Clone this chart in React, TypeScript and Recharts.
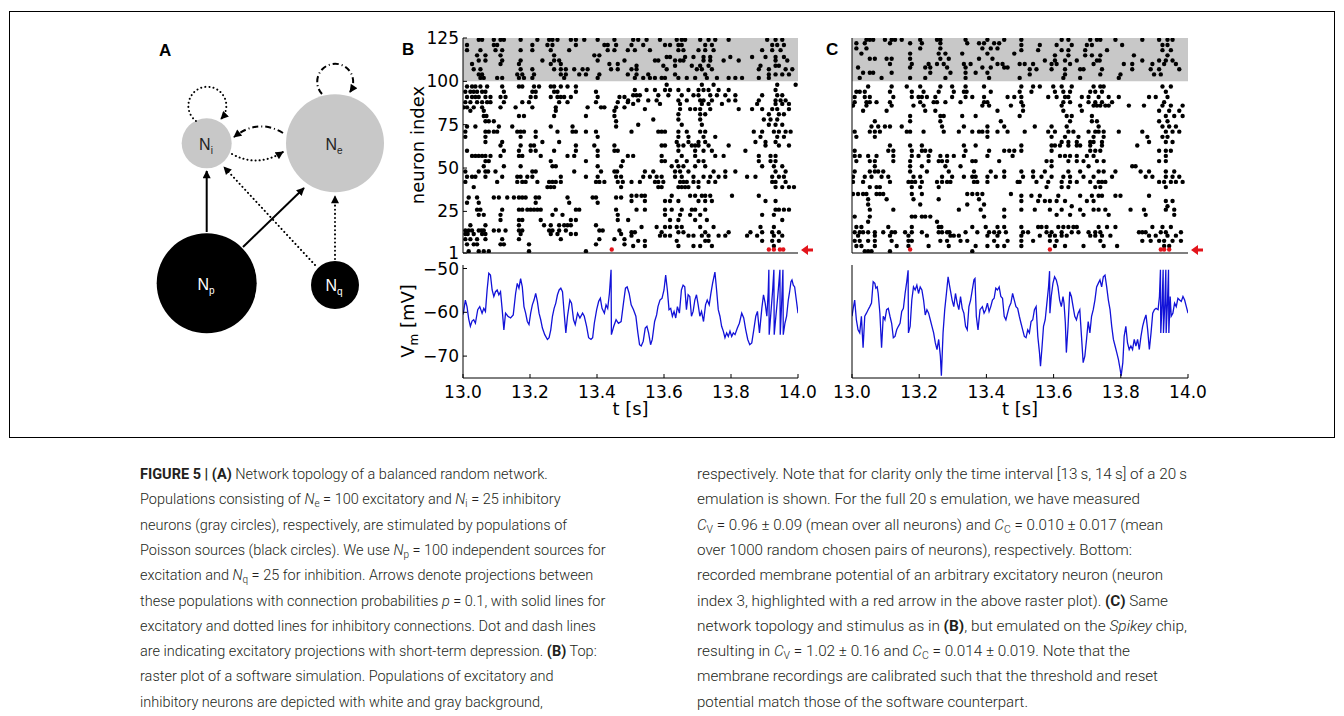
import React from 'react';
import { ScatterChart, Scatter, LineChart, Line, XAxis, YAxis, ReferenceArea } from 'recharts';

const timeTicks = [13.0, 13.2, 13.4, 13.6, 13.8, 14.0];
const neuronTicks = [1, 25, 50, 75, 100, 125];
const vmTicks = [-70, -60, -50];

// spike times in ms after t = 13 s, grouped by neuron index
const spikesB: [number, number[]][] = [
  [124, [47, 57, 92, 112, 122, 172, 222, 257, 267, 282, 322, 337, 362, 402, 452]],
  [121, [12, 92, 102, 207, 252, 267, 337, 422, 432, 457]],
  [118, [12, 52, 97, 117, 172, 207, 262, 317, 432, 452, 492]],
  [115, [42, 67, 112, 272, 392, 407]],
  [112, [47, 67, 117, 172, 237, 272, 287, 402, 482]],
  [110, [27, 112, 167, 262, 292, 437, 462]],
  [107, [32, 52, 172, 207, 272, 292, 307, 332, 357, 372, 442, 462]],
  [104, [47, 57, 162, 177, 212, 292, 307, 347, 367, 407, 492]],
  [102, [52, 62, 102, 117, 167, 182, 207, 302, 402]],
  [97, [12, 27, 37, 52, 72, 117, 167, 177, 212, 227, 262, 272, 292, 312, 337]],
  [94, [7, 22, 32, 42, 57, 67, 122, 207, 217, 272, 282, 337, 397]],
  [91, [12, 27, 37, 47, 67, 82, 112, 127, 202, 217, 262, 282, 292, 302, 322, 402, 467, 482]],
  [88, [7, 22, 42, 57, 72, 82, 122, 177, 197, 287, 312, 397, 462, 492]],
  [85, [2, 12, 32, 57, 112, 157, 207, 277, 372, 412, 422, 457, 482]],
  [83, [22, 62, 277, 452]],
  [80, [62, 70, 167, 182, 272, 367, 452]],
  [77, [67, 77, 92, 457]],
  [74, [12, 37, 107, 147, 262, 327, 457]],
  [71, [7, 67, 77, 92, 102, 162, 172, 182, 217, 282, 327, 337, 367, 397]],
  [68, [7, 67, 172, 217, 402]],
  [65, [67, 117, 237, 287]],
  [63, [112, 172, 202, 212, 337, 392, 452]],
  [60, [12, 122, 167, 202, 217, 272, 337, 402, 452, 462]],
  [57, [27, 37, 47, 57, 67, 82, 112, 167, 177, 232, 312, 332, 402, 492]],
  [54, [67, 77, 262, 367, 477]],
  [51, [62, 122, 172, 267, 277, 402, 472]],
  [48, [7, 47, 67, 75, 97, 207, 217, 332, 412, 452, 460]],
  [45, [12, 27, 37, 67, 117, 162, 172, 192, 207, 292, 367, 402, 457, 472]],
  [42, [7, 102, 162, 177, 187, 222, 257, 267, 277, 292, 397, 407, 422, 462, 477]],
  [39, [32, 252, 262, 272, 472]],
  [33, [17, 42, 92, 107, 132, 152, 167, 177, 187, 217, 227, 312, 387, 397, 457, 472]],
  [30, [12, 47, 217, 317, 402]],
  [26, [42, 52, 117, 167, 177, 192, 202, 212, 222, 232, 277, 337, 347, 457]],
  [23, [47, 62, 112, 267, 297, 462]],
  [20, [112, 167, 177, 232, 322, 337, 462]],
  [17, [22, 67, 167, 242, 262, 287, 302, 312, 322, 397]],
  [14, [7, 17, 27, 47, 55, 62, 92, 107, 127, 167, 177, 257, 267, 287, 307, 407, 417, 467]],
  [12, [7, 14, 32, 57, 67, 172, 262, 282, 322, 337, 472]],
  [9, [7, 22, 42, 67, 117, 167, 292, 407, 452, 482]],
  [6, [12, 32, 42, 112, 122, 197, 397, 482]],
  [2, [17, 47, 62, 77, 197, 367]],
  [124, [508, 523, 548, 588, 638, 653, 663, 708, 733, 753, 793, 908, 933, 953]],
  [121, [503, 538, 603, 618, 643, 653, 723, 743, 923, 938, 958]],
  [118, [513, 558, 643, 658, 703, 723, 748, 893, 923, 948]],
  [114, [608, 618, 663, 688, 718, 738, 798, 863, 903, 933, 958]],
  [112, [573, 583, 633, 648, 658, 718, 738, 778, 823, 933, 968]],
  [109, [518, 598, 633, 683, 708, 733, 888, 933, 943]],
  [107, [503, 518, 608, 698, 713, 743, 883, 913, 963, 983]],
  [104, [518, 553, 633, 723, 913, 933, 953, 973]],
  [102, [513, 538, 558, 573, 593, 603, 643, 668, 693, 728, 758, 793, 813, 833, 883, 913]],
  [98, [608, 713, 748, 938, 993]],
  [95, [513, 548, 573, 603, 618, 643, 673, 703, 718, 733, 763, 793, 933]],
  [92, [508, 518, 528, 583, 613, 653, 688, 703, 738, 758, 783, 813, 893, 938, 953]],
  [89, [493, 523, 553, 578, 643, 668, 708, 718, 743, 793, 813, 883, 933, 948, 963]],
  [87, [508, 588, 648, 713, 733, 773, 878, 933, 953, 973]],
  [84, [543, 648, 678, 693, 708, 738, 823, 863, 893, 923, 938, 973]],
  [81, [643, 708, 723, 913, 943, 958]],
  [78, [568, 643, 708, 898, 918, 938]],
  [75, [523, 653, 713, 913, 933, 953]],
  [71, [503, 583, 593, 603, 643, 668, 708, 723, 868, 893, 928, 943, 963, 978]],
  [68, [643, 673, 718, 753, 888, 938, 958]],
  [65, [638, 673, 703, 723, 873, 903, 933]],
  [63, [593, 603, 643, 658, 683, 693, 703, 733, 793, 903, 943, 973]],
  [60, [643, 693, 718, 743, 843]],
  [57, [508, 593, 653, 693, 753, 778, 883, 918, 933]],
  [54, [593, 603, 638, 668, 703, 718, 883, 918, 933]],
  [51, [623, 643, 658, 693, 723, 893, 928, 953]],
  [48, [543, 568, 633, 648, 673, 748, 783, 813, 933, 963]],
  [45, [538, 558, 578, 593, 633, 653, 688, 718, 738, 763, 783, 848, 873, 923, 943, 958]],
  [42, [503, 528, 573, 583, 598, 648, 658, 668, 688, 703, 733, 753, 923, 933, 963]],
  [39, [583, 593, 643, 653, 663, 673, 703, 933, 953, 973, 988]],
  [34, [503, 518, 533, 543, 623, 678, 693, 713, 723, 738, 803, 883]],
  [31, [503, 543, 603, 618, 643, 703, 723, 743, 903, 933]],
  [26, [518, 543, 603, 623, 653, 683, 693, 723, 933, 943, 958, 973]],
  [23, [603, 648, 678, 708, 893, 928]],
  [20, [493, 618, 643, 693, 728, 953]],
  [16, [533, 578, 603, 618, 638, 653, 708, 748, 888, 928]],
  [13, [503, 513, 593, 643, 658, 723, 793, 858, 893, 923, 943]],
  [11, [503, 588, 603, 618, 673, 688, 713, 733, 763, 783, 848, 878, 928, 953]],
  [8, [523, 543, 638, 723, 733, 893, 923, 943]],
  [5, [508, 543, 643, 688, 708, 743, 928]],
];
const redB = [444, 913, 928, 946, 956];

const spikesC: [number, number[]][] = [
  [124, [43, 53, 63, 98, 118, 128, 148, 203, 253, 263, 338, 403, 453]],
  [122, [13, 38, 113, 173, 208, 263, 343, 378, 393, 423, 438]],
  [119, [13, 43, 203, 263, 388, 413, 433]],
  [116, [28, 173, 258, 278, 328, 403, 483]],
  [113, [53, 68, 103, 118, 173, 263, 288, 378, 418]],
  [110, [113, 178, 228, 253, 273, 333, 353, 433, 448]],
  [108, [18, 173, 218, 233, 283, 338, 388, 413, 453, 463]],
  [105, [33, 53, 63, 118, 233, 293, 338, 368, 403]],
  [102, [23, 88, 173, 218, 278, 338, 408]],
  [97, [48, 118, 163, 203, 263, 298, 338, 393]],
  [94, [13, 23, 38, 113, 178, 213, 258, 303, 333, 341, 413]],
  [91, [8, 38, 53, 123, 178, 198, 208, 223, 248, 298, 338, 358, 393, 463, 483]],
  [88, [8, 43, 53, 73, 113, 203, 243, 253, 278, 323, 393, 403]],
  [86, [3, 43, 118, 183, 213, 388, 408, 473]],
  [83, [33, 103, 218, 248, 433]],
  [80, [173, 263, 273, 328, 368]],
  [77, [68, 173, 263, 443]],
  [74, [58, 78, 98, 113, 148, 268, 333, 403, 453]],
  [71, [8, 53, 68, 83, 163, 173, 213, 273, 318, 358, 378, 388, 403, 433, 463]],
  [68, [13, 68, 403]],
  [63, [113, 173, 208, 333, 368]],
  [60, [8, 108, 123, 178, 208, 218, 233, 338, 408, 453, 468, 483]],
  [57, [8, 23, 48, 73, 123, 178, 198, 228, 263, 283, 303, 333, 403, 478]],
  [54, [13, 53, 68, 123, 173, 228, 258, 268, 283, 358, 368, 438]],
  [51, [68, 173, 208, 278, 323]],
  [48, [8, 53, 68, 78, 93, 173, 223, 288, 363, 413, 453]],
  [45, [3, 38, 58, 88, 108, 183, 203, 268, 298, 333, 358, 368, 403, 428, 453]],
  [42, [3, 33, 113, 168, 178, 188, 208, 253, 268, 283, 293, 363, 373, 403, 493]],
  [39, [53, 73, 83, 178, 203, 258]],
  [35, [3, 18, 33, 43, 73, 83, 93, 178, 208, 343, 358, 373, 388, 473]],
  [32, [48, 103, 183, 258, 378]],
  [29, [48, 203, 343, 393]],
  [26, [53, 123, 318, 383, 453]],
  [22, [8, 53, 178, 188, 208, 218, 233, 393, 453]],
  [19, [48, 253]],
  [16, [13, 28, 108, 178, 258, 266, 358, 398, 433, 453]],
  [13, [8, 23, 33, 48, 68, 93, 118, 128, 158, 178, 208, 258, 268, 283, 290, 338, 373, 408, 423, 438, 458]],
  [11, [18, 68, 113, 168, 223, 293, 303, 318, 403, 433]],
  [8, [8, 23, 48, 68, 118, 168, 178, 263, 283, 323, 343, 423, 463]],
  [5, [13, 28, 68, 133, 168, 228, 288, 368, 403, 433, 453]],
  [2, [38, 48, 58, 113, 358]],
  [124, [504, 624, 644, 709, 729, 739, 784, 864, 914, 939, 954]],
  [121, [504, 559, 609, 654, 699, 714, 804, 924, 939]],
  [118, [504, 554, 624, 644, 694, 759, 924, 949]],
  [115, [604, 644, 694, 714, 739, 839, 939]],
  [112, [574, 604, 634, 669, 729, 737, 864, 914, 934, 954]],
  [110, [499, 514, 539, 594, 609, 649, 719, 809, 834, 894, 929, 964]],
  [107, [529, 549, 594, 634, 679, 689, 744, 834, 889, 914, 974]],
  [104, [529, 634, 739, 799, 899, 919]],
  [102, [499, 629, 679, 794]],
  [97, [504, 539, 559, 599, 624, 654, 719, 739, 749, 924, 949]],
  [94, [499, 534, 604, 629, 649, 709, 724, 744, 934]],
  [91, [504, 584, 609, 634, 644, 684, 704, 734, 764, 794, 884, 904, 939]],
  [88, [504, 629, 649, 704, 724, 744, 774, 929]],
  [86, [509, 624, 679, 719, 729, 739, 754, 764, 824, 869, 924, 949, 984]],
  [83, [509, 629, 684, 914, 944, 974]],
  [80, [499, 639, 654, 714, 934, 959, 984]],
  [77, [649, 714, 729, 914, 939]],
  [74, [544, 594, 639, 734, 924, 944, 964]],
  [71, [514, 584, 604, 644, 659, 704, 724, 734, 749, 794, 864, 934, 954, 974]],
  [68, [594, 634, 674, 719, 749, 879, 924, 939]],
  [65, [624, 644, 669, 709, 719, 744, 884, 934, 954]],
  [63, [504, 594, 604, 619, 644, 669, 679, 709, 744, 849]],
  [60, [504, 594, 709, 724, 739, 914, 934, 949]],
  [57, [619, 634, 649, 669, 699, 719, 934]],
  [54, [579, 594, 644, 669, 689, 729, 749, 914, 934]],
  [51, [594, 704, 834, 844]],
  [48, [504, 539, 574, 644, 679, 734, 749, 784, 859, 884, 934, 959]],
  [45, [509, 539, 564, 594, 629, 649, 689, 719, 774, 874, 894, 934, 954, 974]],
  [42, [499, 549, 584, 624, 649, 669, 709, 734, 744, 754, 914, 929, 949, 964, 984]],
  [39, [579, 624, 644, 724, 739, 934]],
  [34, [504, 534, 559, 614, 679, 714, 734, 744, 784, 799, 884]],
  [31, [504, 554, 574, 589, 609, 634, 699, 719, 934, 954]],
  [28, [654, 939]],
  [26, [504, 544, 589, 624, 679, 719, 734, 754, 829, 869, 934, 959]],
  [23, [609, 649, 689, 764, 874, 959]],
  [16, [504, 554, 564, 579, 614, 629, 644, 659, 669, 734, 759, 784, 894, 924, 949]],
  [13, [509, 524, 579, 594, 624, 654, 674, 704, 724, 739, 854, 864, 874, 919, 934, 979]],
  [11, [504, 559, 589, 604, 624, 639, 709, 724, 744, 769, 884, 904, 939, 964]],
  [8, [504, 539, 589, 609, 739, 864, 889, 914, 929, 954, 979]],
  [5, [504, 604, 634, 689, 749, 789, 929, 944]],
];
const redC = [173, 589, 919, 929, 944];

// membrane potential [ms after 13 s, mV]
const vmB: [number, number][] = [
  [0, -60.5], [2, -59.8], [7, -57.2], [12, -58.7], [17, -61.5], [22, -63.2], [27, -62.0], [32, -61.7], [37, -62.5], [44, -59.4],
  [50, -58.7], [57, -60.2], [62, -59.1], [67, -59.8], [72, -54.9], [77, -51.1], [82, -51.5], [87, -54.9], [92, -56.4], [97, -55.3],
  [102, -54.9], [107, -56.0], [112, -55.3], [117, -59.4], [122, -64.0], [127, -60.2], [134, -60.9], [142, -61.3], [150, -60.6], [157, -55.7],
  [162, -53.4], [167, -54.5], [172, -52.3], [177, -54.2], [182, -58.7], [187, -60.2], [192, -62.1], [197, -62.8], [202, -60.2], [207, -58.3],
  [212, -57.2], [217, -55.7], [222, -57.5], [227, -60.2], [232, -61.7], [237, -63.6], [244, -65.1], [252, -66.2], [257, -65.8], [262, -64.0],
  [267, -60.9], [272, -59.1], [277, -57.9], [282, -56.0], [287, -54.9], [292, -54.5], [297, -55.3], [302, -60.2], [307, -64.7], [312, -60.9],
  [319, -57.2], [324, -57.9], [330, -61.7], [335, -62.8], [342, -60.2], [349, -61.3], [357, -60.2], [362, -60.9], [369, -63.2], [375, -65.8],
  [382, -66.2], [387, -65.8], [392, -62.5], [399, -59.4], [405, -57.5], [410, -56.8], [415, -59.1], [422, -60.2], [427, -58.3], [432, -59.1],
  [437, -55.7], [442, -50.3], [443, -65.1], [450, -63.2], [457, -61.7], [464, -62.5], [472, -62.1], [479, -57.9], [485, -54.5], [490, -54.2],
  [496, -55.7], [502, -58.3], [509, -59.4], [516, -60.9], [522, -64.7], [527, -67.4], [532, -67.7], [538, -66.6], [544, -63.6], [549, -63.2],
  [554, -64.7], [560, -67.4], [565, -66.2], [572, -62.1], [578, -60.6], [582, -58.7], [588, -57.2], [594, -56.8], [600, -54.9], [605, -51.5],
  [610, -54.9], [615, -59.4], [620, -59.1], [625, -60.9], [630, -59.8], [635, -61.3], [640, -58.7], [646, -60.2], [652, -54.9], [657, -53.8],
  [662, -54.2], [667, -59.4], [672, -56.0], [677, -56.4], [682, -60.9], [687, -59.8], [692, -57.2], [697, -56.0], [702, -58.3], [707, -60.9],
  [712, -59.8], [718, -62.1], [724, -58.3], [729, -57.2], [735, -58.3], [740, -55.7], [745, -53.4], [752, -50.8], [757, -54.9], [762, -59.4],
  [767, -60.9], [772, -63.2], [777, -64.3], [782, -65.8], [787, -64.7], [792, -65.5], [797, -64.3], [802, -65.5], [807, -64.7], [812, -65.1],
  [819, -63.6], [825, -62.5], [832, -60.2], [838, -61.3], [844, -64.0], [850, -66.2], [856, -67.4], [862, -67.0], [868, -64.0], [874, -60.9],
  [879, -59.8], [885, -64.7], [892, -59.1], [897, -56.0], [902, -57.9], [907, -60.9], [911, -55.5], [913, -50.3], [914, -65.1], [919, -60.2],
  [924, -55.3], [928, -50.3], [929, -65.1], [934, -60.9], [940, -56.0], [946, -50.3], [947, -65.1], [951, -58.3], [955, -50.3], [956, -65.1],
  [961, -62.5], [966, -60.9], [971, -57.2], [975, -55.3], [979, -53.0], [982, -52.6], [986, -53.8], [990, -54.2], [995, -57.2], [1000, -60.2],
];

const vmC: [number, number][] = [
  [0, -60.9], [3, -59.4], [8, -57.2], [13, -61.7], [18, -64.0], [23, -64.7], [28, -60.9], [33, -68.1], [38, -60.9], [43, -60.2],
  [48, -59.4], [53, -58.7], [58, -57.9], [63, -53.0], [68, -53.4], [71, -54.5], [75, -54.2], [78, -55.7], [83, -60.2], [88, -68.1],
  [93, -60.9], [98, -61.7], [103, -59.4], [108, -59.1], [113, -60.9], [118, -62.5], [123, -65.8], [128, -65.5], [133, -64.0], [138, -63.2],
  [143, -62.5], [148, -59.8], [153, -59.1], [158, -55.7], [163, -53.0], [167, -50.4], [168, -64.7], [173, -63.2], [178, -57.2], [183, -54.2],
  [188, -54.9], [193, -53.8], [198, -55.7], [203, -54.2], [208, -54.9], [213, -57.2], [218, -60.6], [223, -59.4], [228, -60.2], [233, -61.7],
  [238, -63.2], [243, -64.7], [248, -67.0], [253, -68.5], [258, -66.2], [263, -70.0], [266, -74.5], [271, -64.7], [276, -59.4], [281, -55.7],
  [286, -51.9], [291, -54.2], [298, -57.2], [303, -58.7], [308, -55.7], [313, -57.9], [318, -59.4], [323, -56.4], [328, -59.1], [333, -60.2],
  [338, -63.2], [343, -64.0], [348, -58.7], [353, -57.2], [358, -54.9], [363, -52.6], [366, -52.3], [370, -60.9], [375, -64.0], [381, -59.4],
  [388, -58.7], [393, -60.2], [398, -59.4], [403, -57.9], [408, -59.8], [413, -58.7], [418, -57.2], [423, -56.8], [428, -54.5], [433, -54.9],
  [438, -54.2], [443, -56.4], [448, -56.8], [453, -60.9], [458, -61.7], [463, -60.2], [468, -58.7], [473, -57.9], [478, -55.7], [483, -57.2],
  [488, -58.7], [493, -59.1], [498, -60.9], [503, -62.5], [508, -64.0], [513, -65.5], [518, -65.8], [523, -64.0], [528, -64.7], [533, -62.1],
  [538, -61.7], [543, -59.4], [548, -58.7], [553, -65.5], [558, -69.2], [561, -72.3], [565, -68.5], [570, -63.2], [575, -61.7], [580, -57.9],
  [585, -54.2], [588, -50.6], [589, -60.2], [593, -56.4], [598, -53.4], [603, -51.9], [608, -52.6], [613, -54.2], [618, -57.2], [623, -58.7],
  [628, -56.4], [631, -57.9], [635, -62.5], [638, -69.2], [643, -63.2], [648, -55.3], [653, -56.4], [658, -58.7], [663, -60.9], [668, -61.7],
  [673, -60.2], [678, -59.4], [683, -65.5], [688, -71.5], [693, -70.0], [698, -66.2], [703, -62.1], [708, -64.7], [713, -60.9], [718, -59.4],
  [723, -57.2], [728, -54.2], [733, -53.4], [738, -52.6], [743, -54.2], [748, -51.9], [753, -51.5], [758, -54.2], [763, -57.2], [768, -59.4],
  [773, -63.2], [778, -66.2], [783, -67.7], [788, -69.2], [793, -70.8], [798, -73.0], [801, -74.5], [806, -71.5], [810, -65.5], [815, -63.2],
  [820, -67.0], [825, -68.5], [830, -67.7], [835, -68.5], [840, -66.2], [845, -67.7], [850, -66.2], [855, -68.5], [860, -65.5], [865, -63.2],
  [870, -61.7], [875, -60.6], [880, -64.0], [885, -68.5], [890, -64.7], [895, -60.2], [900, -59.4], [905, -59.1], [911, -59.4], [915, -56.4],
  [918, -50.3], [919, -64.7], [923, -58.0], [926, -50.3], [927, -64.7], [931, -58.0], [934, -50.3], [935, -64.7], [939, -57.5], [942, -50.3],
  [943, -64.7], [947, -56.4], [950, -60.9], [955, -60.2], [960, -57.9], [965, -58.7], [970, -56.8], [975, -57.2], [980, -57.5], [985, -56.4],
  [990, -57.2], [995, -58.7], [1000, -60.2],
];

type Seg = [string, string?];
const captionLeft: Seg[][] = [
  [['FIGURE 5 | (A)', 'b'], [' Network topology of a balanced random network.']],
  [['Populations consisting of '], ['N', 'i'], ['e', 'sub'], [' = 100 excitatory and '], ['N', 'i'], ['i', 'sub'], [' = 25 inhibitory']],
  [['neurons (gray circles), respectively, are stimulated by populations of']],
  [['Poisson sources (black circles). We use '], ['N', 'i'], ['p', 'sub'], [' = 100 independent sources for']],
  [['excitation and '], ['N', 'i'], ['q', 'sub'], [' = 25 for inhibition. Arrows denote projections between']],
  [['these populations with connection probabilities '], ['p', 'i'], [' = 0.1, with solid lines for']],
  [['excitatory and dotted lines for inhibitory connections. Dot and dash lines']],
  [['are indicating excitatory projections with short-term depression. '], ['(B)', 'b'], [' Top:']],
  [['raster plot of a software simulation. Populations of excitatory and']],
  [['inhibitory neurons are depicted with white and gray background,']],
];
const captionRight: Seg[][] = [
  [['respectively. Note that for clarity only the time interval [13\u2009s, 14\u2009s] of a 20\u2009s']],
  [['emulation is shown. For the full 20\u2009s emulation, we have measured']],
  [['C', 'i'], ['V', 'sub'], [' = 0.96 \u00b1 0.09 (mean over all neurons) and '], ['C', 'i'], ['C', 'sub'], [' = 0.010 \u00b1 0.017 (mean']],
  [['over 1000 random chosen pairs of neurons), respectively. Bottom:']],
  [['recorded membrane potential of an arbitrary excitatory neuron (neuron']],
  [['index 3, highlighted with a red arrow in the above raster plot). '], ['(C)', 'b'], [' Same']],
  [['network topology and stimulus as in '], ['(B)', 'b'], [', but emulated on the '], ['Spikey', 'i'], [' chip,']],
  [['resulting in '], ['C', 'i'], ['V', 'sub'], [' = 1.02 \u00b1 0.16 and '], ['C', 'i'], ['C', 'sub'], [' = 0.014 \u00b1 0.019. Note that the']],
  [['membrane recordings are calibrated such that the threshold and reset']],
  [['potential match those of the software counterpart.']],
];
// rendered width of each right-column caption line (layout)
const widthsRight = [490, 443, 466, 435, 466, 471, 490, 433, 461, 331];

const toSpikes = (rows: [number, number[]][]) =>
  rows.flatMap(([n, ts]) => ts.map((ms) => ({ t: 13 + ms / 1000, n })));
const toTrace = (pts: [number, number][]) => pts.map(([ms, v]) => ({ t: 13 + ms / 1000, v }));

const tickFont = { fontFamily: 'DejaVu Sans', fontSize: 17, fill: '#000' };
const frame = { stroke: '#000', strokeWidth: 1 };
const minus = (v: number) => String(v).replace('-', '\u2212');

const dot = (fill: string) => (p: any) => <circle cx={p.cx} cy={p.cy} r={2.2} fill={fill} />;

const Raster = ({ left, width, rows, red, labels }: any) => (
  <div style={{ position: 'absolute', left, top: 20 }}>
    <ScatterChart width={width} height={250} margin={{ top: 18, right: 30, bottom: 0, left: 0 }}>
      <ReferenceArea x1={13} x2={14} y1={100} y2={125} fill="#c8c8c8" fillOpacity={1} stroke="none" />
      <XAxis type="number" dataKey="t" domain={[13, 14]} ticks={timeTicks} interval={0} height={17}
        tick={false} tickSize={-4} axisLine={frame} tickLine={frame} allowDataOverflow />
      <XAxis xAxisId="top" orientation="top" type="number" domain={[13, 14]} ticks={timeTicks} interval={0}
        height={0} tick={false} tickSize={-4} axisLine={frame} tickLine={frame} />
      <YAxis type="number" dataKey="n" domain={[1, 125]} ticks={neuronTicks} interval={0} width={63}
        tick={labels ? tickFont : false} tickSize={-4} tickMargin={8} axisLine={frame} tickLine={frame} allowDataOverflow />
      <YAxis yAxisId="right" orientation="right" type="number" domain={[1, 125]} ticks={neuronTicks} interval={0}
        width={0} tick={false} tickSize={-4} axisLine={frame} tickLine={frame} />
      <Scatter data={toSpikes(rows)} shape={dot('#000')} isAnimationActive={false} />
      <Scatter data={red.map((ms: number) => ({ t: 13 + ms / 1000, n: 3 }))} shape={dot('#e3141b')} isAnimationActive={false} />
    </ScatterChart>
  </div>
);

const Trace = ({ left, width, data, labels }: any) => (
  <div style={{ position: 'absolute', left, top: 255 }}>
    <LineChart width={width} height={170} data={toTrace(data)} margin={{ top: 10, right: 30, bottom: 0, left: 0 }}>
      <XAxis type="number" dataKey="t" domain={[13, 14]} ticks={timeTicks} interval={0} height={47}
        tick={tickFont} tickFormatter={(v: number) => v.toFixed(1)} tickSize={-4} tickMargin={12}
        axisLine={frame} tickLine={frame} allowDataOverflow />
      <XAxis xAxisId="top" orientation="top" type="number" domain={[13, 14]} ticks={timeTicks} interval={0}
        height={0} tick={false} tickSize={-4} axisLine={frame} tickLine={frame} />
      <YAxis type="number" domain={[-75, -49.2]} ticks={vmTicks} interval={0} width={63}
        tick={labels ? tickFont : false} tickFormatter={minus} tickSize={-4} tickMargin={8}
        axisLine={frame} tickLine={frame} allowDataOverflow />
      <YAxis yAxisId="right" orientation="right" type="number" domain={[-75, -49.2]} ticks={vmTicks} interval={0}
        width={0} tick={false} tickSize={-4} axisLine={frame} tickLine={frame} />
      <Line type="linear" dataKey="v" stroke="#1212d8" strokeWidth={1.3} dot={false} isAnimationActive={false} />
    </LineChart>
  </div>
);

const CaptionLine = ({ segs, x, y, w }: { segs: Seg[]; x: number; y: number; w?: number }) => (
  <text x={x} y={y} fontFamily="Roboto" fontWeight={300} fontSize={14.5} fill="#231f20"
    textLength={w} lengthAdjust={w ? 'spacingAndGlyphs' : undefined}>
    {segs.map(([s, k], i) => {
      const afterSub = i > 0 && segs[i - 1][1] === 'sub';
      if (k === 'sub') return <tspan key={i} fontSize={10} dy={3}>{s}</tspan>;
      return (
        <tspan key={i} dy={afterSub ? -3 : undefined}
          fontWeight={k === 'b' ? 700 : undefined} fontStyle={k === 'i' ? 'italic' : undefined}>{s}</tspan>
      );
    })}
  </text>
);

const NodeLabel = ({ x, y, sub, fill }: any) => (
  <text x={x} y={y} fontFamily="Liberation Sans" fontSize={16} fill={fill} textAnchor="middle">
    N<tspan fontSize={10} dy={4}>{sub}</tspan>
  </text>
);

export default function App() {
  const dotted = { stroke: '#000', strokeWidth: 2, strokeDasharray: '0.1 4', strokeLinecap: 'round' as const, fill: 'none' };
  const dashDot = { stroke: '#000', strokeWidth: 2, strokeDasharray: '6 3 1 3', fill: 'none' };
  const solid = { stroke: '#000', strokeWidth: 2, fill: 'none' };
  return (
    <div style={{ position: 'absolute', left: 0, top: 0, width: 1344, height: 716, background: '#fff', overflow: 'hidden', fontFamily: 'DejaVu Sans' }}>
      <Raster left={400} width={428} rows={spikesB} red={redB} labels />
      <Raster left={789} width={429} rows={spikesC} red={redC} />
      <Trace left={400} width={428} data={vmB} labels />
      <Trace left={789} width={429} data={vmC} />
      <svg width={1344} height={716} style={{ position: 'absolute', left: 0, top: 0, pointerEvents: 'none' }}>
        <defs>
          <marker id="ah" viewBox="0 0 10 10" refX="9" refY="5" markerWidth="9" markerHeight="8"
            markerUnits="userSpaceOnUse" orient="auto">
            <path d="M0,0 L10,5 L0,10 z" fill="#000" />
          </marker>
        </defs>
        <rect x={9.5} y={11.5} width={1325} height={426} fill="none" stroke="#000" strokeWidth={1} />

        {/* panel letters */}
        <g fontFamily="Liberation Sans" fontWeight={700} fontSize={17} fill="#000">
          <text x={159} y={56}>A</text>
          <text x={402} y={55}>B</text>
          <text x={826} y={55}>C</text>
        </g>

        {/* axis titles */}
        <g fontFamily="DejaVu Sans" fontSize={18} fill="#000" textAnchor="middle">
          <text transform="translate(424,145) rotate(-90)">neuron index</text>
          <text transform="translate(414,321) rotate(-90)">V<tspan fontSize={12} dy={4}>m</tspan><tspan dy={-4}> [mV]</tspan></text>
          <text x={630.5} y={415}>t [s]</text>
          <text x={1020} y={415}>t [s]</text>
        </g>

        {/* red arrows marking neuron 3 */}
        <g fill="#e3141b">
          <path d="M801,250 L808,245 L808,248.5 L813,248.5 L813,251.5 L808,251.5 L808,255 z" />
          <path d="M1191,250 L1198,245 L1198,248.5 L1203,248.5 L1203,251.5 L1198,251.5 L1198,255 z" />
        </g>

        {/* network topology */}
        <circle cx={206.7} cy={143.3} r={25} fill="#c8c8c8" />
        <circle cx={335} cy={143.3} r={49} fill="#c8c8c8" />
        <circle cx={206.7} cy={283.3} r={50} fill="#000" />
        <circle cx={335} cy={285} r={24} fill="#000" />
        <NodeLabel x={206} y={150} sub="i" fill="#222" />
        <NodeLabel x={334} y={150} sub="e" fill="#222" />
        <NodeLabel x={206} y={290} sub="p" fill="#fff" />
        <NodeLabel x={334} y={291} sub="q" fill="#fff" />
        <path d="M206.7,232 L206.7,171" {...solid} markerEnd="url(#ah)" />
        <path d="M243,247 L304,188" {...solid} markerEnd="url(#ah)" />
        <path d="M315,265 L224,167" {...dotted} markerEnd="url(#ah)" />
        <path d="M335,259 L335,196" {...dotted} markerEnd="url(#ah)" />
        <path d="M232,154 Q257,168 283,152" {...dotted} markerEnd="url(#ah)" />
        <path d="M283,133 Q258,118 234,137" {...dashDot} markerEnd="url(#ah)" />
        <path d="M196,121 A19,19 0 1 1 221,119" {...dotted} markerEnd="url(#ah)" />
        <path d="M322,94 A18,18 0 1 1 350,92" {...dashDot} markerEnd="url(#ah)" />

        {/* caption */}
        {captionLeft.map((segs, i) => <CaptionLine key={'l' + i} segs={segs} x={140} y={479 + i * 25.3} />)}
        {captionRight.map((segs, i) => <CaptionLine key={'r' + i} segs={segs} x={697} y={479 + i * 25.3} w={widthsRight[i]} />)}
      </svg>
    </div>
  );
}
